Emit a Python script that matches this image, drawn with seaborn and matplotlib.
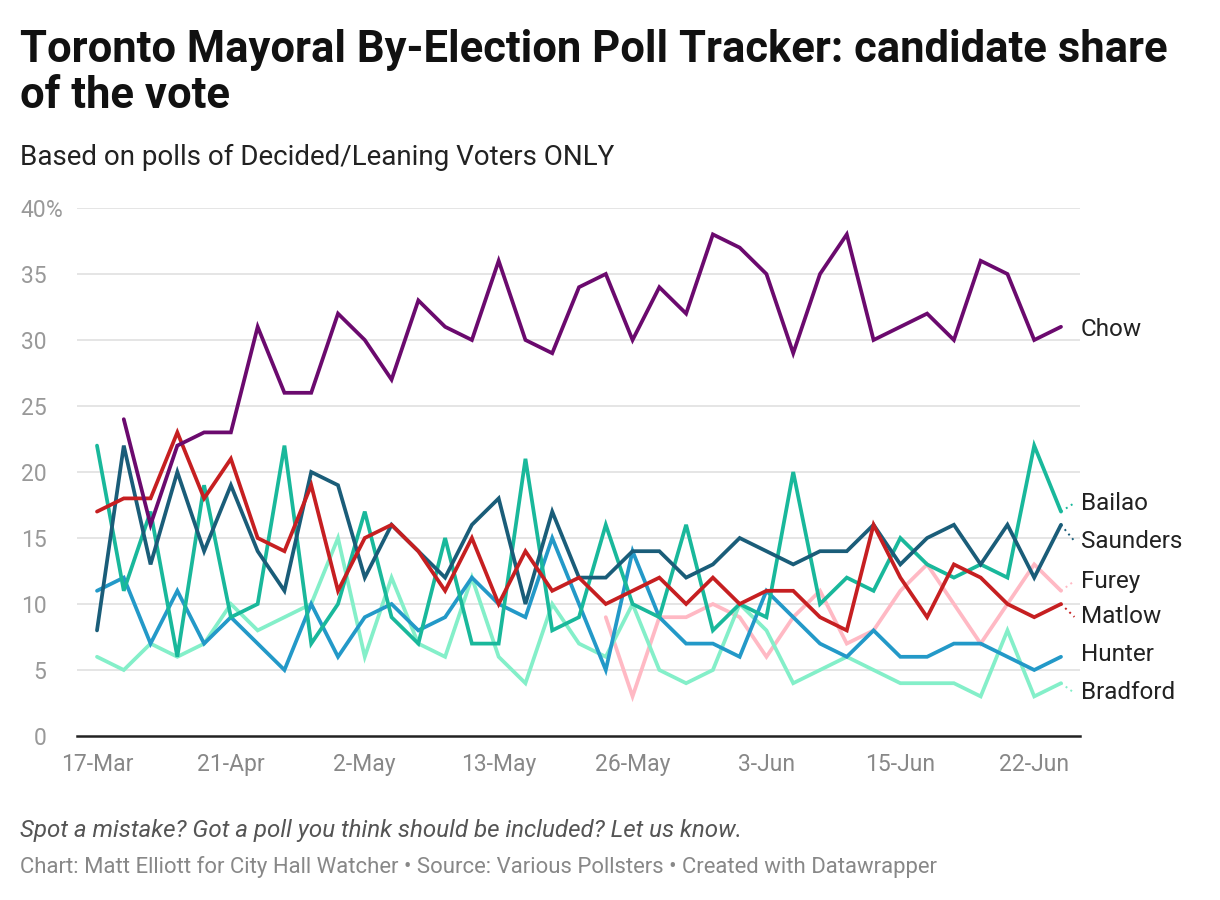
import matplotlib
matplotlib.use("Agg")
import matplotlib.pyplot as plt
import seaborn as sns
import numpy as np
import pandas as pd

nan = np.nan

# one entry per poll, in order (evenly spaced on the x axis)
tick_polls = [0, 5, 10, 15, 20, 25, 30, 35]
tick_labels = ["17-Mar", "21-Apr", "2-May", "13-May", "26-May", "3-Jun", "15-Jun", "22-Jun"]

chow = [nan, 24, 16, 22, 23, 23, 31, 26, 26, 32, 30, 27, 33, 31, 30, 36, 30, 29, 34,
        35, 30, 34, 32, 38, 37, 35, 29, 35, 38, 30, 31, 32, 30, 36, 35, 30, 31]
bailao = [22, 11, 17, 6, 19, 9, 10, 22, 7, 10, 17, 9, 7, 15, 7, 7, 21, 8, 9,
          16, 10, 9, 16, 8, 10, 9, 20, 10, 12, 11, 15, 13, 12, 13, 12, 22, 17]
saunders = [8, 22, 13, 20, 14, 19, 14, 11, 20, 19, 12, 16, 14, 12, 16, 18, 10, 17, 12,
            12, 14, 14, 12, 13, 15, 14, 13, 14, 14, 16, 13, 15, 16, 13, 16, 12, 16]
matlow = [17, 18, 18, 23, 18, 21, 15, 14, 19, 11, 15, 16, 14, 11, 15, 10, 14, 11, 12,
          10, 11, 12, 10, 12, 10, 11, 11, 9, 8, 16, 12, 9, 13, 12, 10, 9, 10]
hunter = [11, 12, 7, 11, 7, 9, 7, 5, 10, 6, 9, 10, 8, 9, 12, 10, 9, 15, 10,
          5, 14, 9, 7, 7, 6, 11, 9, 7, 6, 8, 6, 6, 7, 7, 6, 5, 6]
bradford = [6, 5, 7, 6, 7, 10, 8, 9, 10, 15, 6, 12, 7, 6, 12, 6, 4, 10, 7,
            6, 10, 5, 4, 5, 10, 8, 4, 5, 6, 5, 4, 4, 4, 3, 8, 3, 4]
furey = [nan] * 19 + [9, 3, 9, 9, 10, 9, 6, 9, 11, 7, 8, 11, 13, 10, 7, 10, 13, 11]

series = {
    "Furey": furey,
    "Bradford": bradford,
    "Hunter": hunter,
    "Bailao": bailao,
    "Saunders": saunders,
    "Matlow": matlow,
    "Chow": chow,
}
colors = {
    "Chow": "#6b0a6e",
    "Bailao": "#19b89b",
    "Saunders": "#1a5d79",
    "Furey": "#ffb9c4",
    "Matlow": "#c61f21",
    "Hunter": "#2399c8",
    "Bradford": "#84efc9",
}
# where the end labels sit (value units), nudged apart like the original
label_y = {"Chow": 30.76, "Bailao": 17.65, "Saunders": 14.77, "Furey": 11.74,
           "Matlow": 9.02, "Hunter": 6.14, "Bradford": 3.26}

rows = []
for name, vals in series.items():
    for i, v in enumerate(vals):
        rows.append({"poll": i, "share": v, "candidate": name})
df = pd.DataFrame(rows).dropna()

sns.set_style("white")
plt.rcParams["font.family"] = ["Roboto", "DejaVu Sans"]

W, H = 1220, 900
fig = plt.figure(figsize=(W / 100, H / 100), dpi=100)
ax = fig.add_axes([77 / W, (H - 736) / H, 1003 / W, 528 / H])

sns.lineplot(data=df, x="poll", y="share", hue="candidate",
             hue_order=list(series.keys()), palette=colors,
             linewidth=2.7, legend=False, ax=ax, estimator=None)
for ln in ax.lines:
    ln.set_clip_on(False)
    ln.set_solid_joinstyle("miter")

n = len(chow)
ax.set_xlim(-20 / 26.78, n - 1 + 19 / 26.78)
ax.set_ylim(0, 40)
ax.set_yticks([0, 5, 10, 15, 20, 25, 30, 35, 40])
ax.set_yticklabels(["0", "5", "10", "15", "20", "25", "30", "35", "40"])
ax.set_xticks(tick_polls)
ax.set_xticklabels(tick_labels)
ax.tick_params(axis="y", length=0, pad=22, labelsize=16.5, labelcolor="#999999")
ax.tick_params(axis="x", length=0, pad=12, labelsize=16.5, labelcolor="#888888")
ax.set_xlabel("")
ax.set_ylabel("")
for y in range(5, 45, 5):
    ax.axhline(y, color="#e3e3e3", linewidth=1.3, zorder=0)
for s in ["top", "right", "left"]:
    ax.spines[s].set_visible(False)
ax.spines["bottom"].set_color("#222222")
ax.spines["bottom"].set_linewidth(1.8)
ax.spines["bottom"].set_zorder(5)

fig.text(46 / W, (H - 208) / H, "%", fontsize=16.5, color="#999999",
         ha="left", va="center_baseline")

# end labels with dotted leaders where nudged
last = n - 1
for name, vals in series.items():
    v = vals[last]
    ly = label_y[name]
    if abs(ly - v) > 0.5:
        ax.plot([last, last + 0.5], [v, ly], linestyle=(0, (1, 2)),
                color=colors[name], linewidth=1.4, clip_on=False)
    ax.text(last + 0.75, ly, name, fontsize=17.5, color="#222222",
            ha="left", va="center")

fig.text(20 / W, 1 - 62 / H, "Toronto Mayoral By-Election Poll Tracker: candidate share",
         fontsize=31.4, fontweight="bold", color="#111111", ha="left", va="baseline")
fig.text(20 / W, 1 - 108 / H, "of the vote",
         fontsize=31.4, fontweight="bold", color="#111111", ha="left", va="baseline")
fig.text(20 / W, 1 - 165 / H, "Based on polls of Decided/Leaning Voters ONLY",
         fontsize=20, color="#222222", ha="left", va="baseline")
fig.text(20 / W, 1 - 837 / H,
         "Spot a mistake? Got a poll you think should be included? Let us know.",
         fontsize=17.4, style="italic", color="#555555", ha="left", va="baseline")
fig.text(20 / W, 1 - 873 / H,
         "Chart: Matt Elliott for City Hall Watcher \u2022 Source: Various Pollsters \u2022 Created with Datawrapper",
         fontsize=15.9, color="#888888", ha="left", va="baseline")

fig.savefig("out.png", dpi=100, facecolor="white")
